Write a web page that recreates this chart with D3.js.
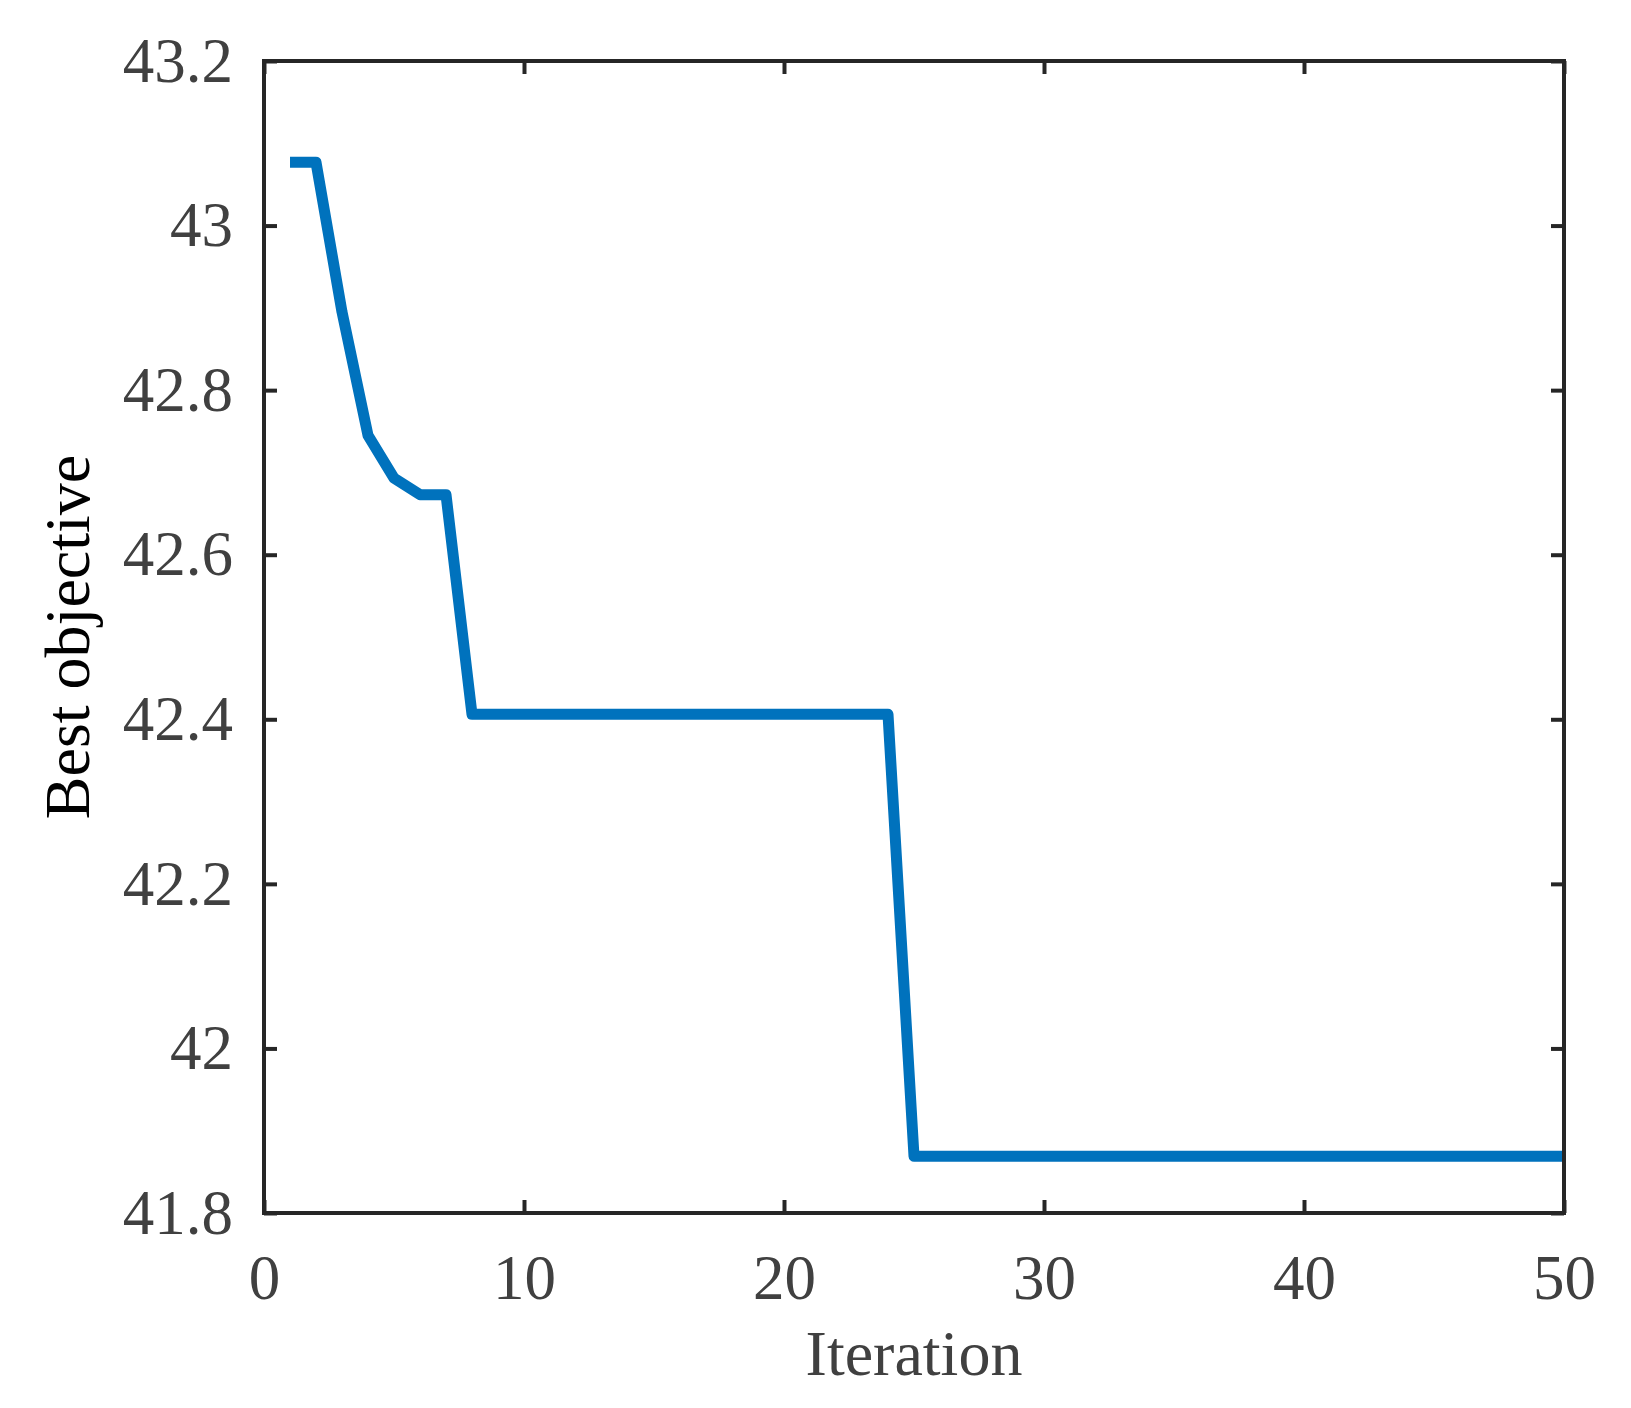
<!DOCTYPE html>
<html>
<head>
<meta charset="utf-8">
<script src="https://cdn.jsdelivr.net/npm/d3@7"></script>
<style>
html,body{margin:0;padding:0;background:#fff;}
svg{display:block;}
</style>
</head>
<body>
<svg id="chart" width="1631" height="1408"></svg>
<script>
const iterations = d3.range(1, 51);
const bestObjective = [
  43.077, 43.077, 42.895, 42.745, 42.693, 42.673, 42.673, 42.406, 42.406, 42.406,
  42.406, 42.406, 42.406, 42.406, 42.406, 42.406, 42.406, 42.406, 42.406, 42.406,
  42.406, 42.406, 42.406, 42.406, 41.869, 41.869, 41.869, 41.869, 41.869, 41.869,
  41.869, 41.869, 41.869, 41.869, 41.869, 41.869, 41.869, 41.869, 41.869, 41.869,
  41.869, 41.869, 41.869, 41.869, 41.869, 41.869, 41.869, 41.869, 41.869, 41.869
];
const xTicks = [0, 10, 20, 30, 40, 50];
const yTicks = [41.8, 42, 42.2, 42.4, 42.6, 42.8, 43, 43.2];
const xLabel = "Iteration";
const yLabel = "Best objective";

const svg = d3.select("#chart");
const L = 264, R = 1564, T = 61, B = 1213;
const x = d3.scaleLinear().domain([0, 50]).range([L, R]);
const y = d3.scaleLinear().domain([41.8, 43.2]).range([B, T]);

const font = "Liberation Serif";
const axisColor = "#262626";
const textColor = "#404040";
const tickLen = 13;
const fmt = d => String(+d.toFixed(1));

function styleAxis(g, showLabels) {
  g.attr("font-family", font).attr("font-size", 63);
  g.select(".domain").remove();
  g.selectAll(".tick line").attr("stroke", axisColor).attr("stroke-width", 4);
  g.selectAll(".tick text").attr("fill", textColor);
  if (!showLabels) g.selectAll(".tick text").remove();
}

svg.append("g").attr("transform", `translate(0,${B})`)
  .call(d3.axisBottom(x).tickValues(xTicks).tickFormat(fmt).tickSizeInner(-tickLen).tickSizeOuter(0).tickPadding(41))
  .call(g => styleAxis(g, true));
svg.append("g").attr("transform", `translate(0,${T})`)
  .call(d3.axisTop(x).tickValues(xTicks).tickSizeInner(-tickLen).tickSizeOuter(0))
  .call(g => styleAxis(g, false));
svg.append("g").attr("transform", `translate(${L},0)`)
  .call(d3.axisLeft(y).tickValues(yTicks).tickFormat(fmt).tickSizeInner(-tickLen).tickSizeOuter(0).tickPadding(31))
  .call(g => styleAxis(g, true));
svg.append("g").attr("transform", `translate(${R},0)`)
  .call(d3.axisRight(y).tickValues(yTicks).tickSizeInner(-tickLen).tickSizeOuter(0))
  .call(g => styleAxis(g, false));

const line = d3.line().x((d, i) => x(iterations[i])).y(d => y(d));
svg.append("path")
  .datum(bestObjective)
  .attr("d", line)
  .attr("fill", "none")
  .attr("stroke", "#0072BD")
  .attr("stroke-width", 11)
  .attr("stroke-linejoin", "round");

svg.append("rect")
  .attr("x", L).attr("y", T).attr("width", R - L).attr("height", B - T)
  .attr("fill", "none").attr("stroke", axisColor).attr("stroke-width", 4);

svg.append("text")
  .attr("x", (L + R) / 2).attr("y", 1375)
  .attr("text-anchor", "middle")
  .attr("fill", textColor)
  .attr("font-family", font).attr("font-size", 64)
  .text(xLabel);
svg.append("text")
  .attr("transform", `translate(89,${(T + B) / 2}) rotate(-90)`)
  .attr("text-anchor", "middle")
  .attr("fill", "#000")
  .attr("font-family", font).attr("font-size", 64)
  .text(yLabel);
</script>
</body>
</html>
